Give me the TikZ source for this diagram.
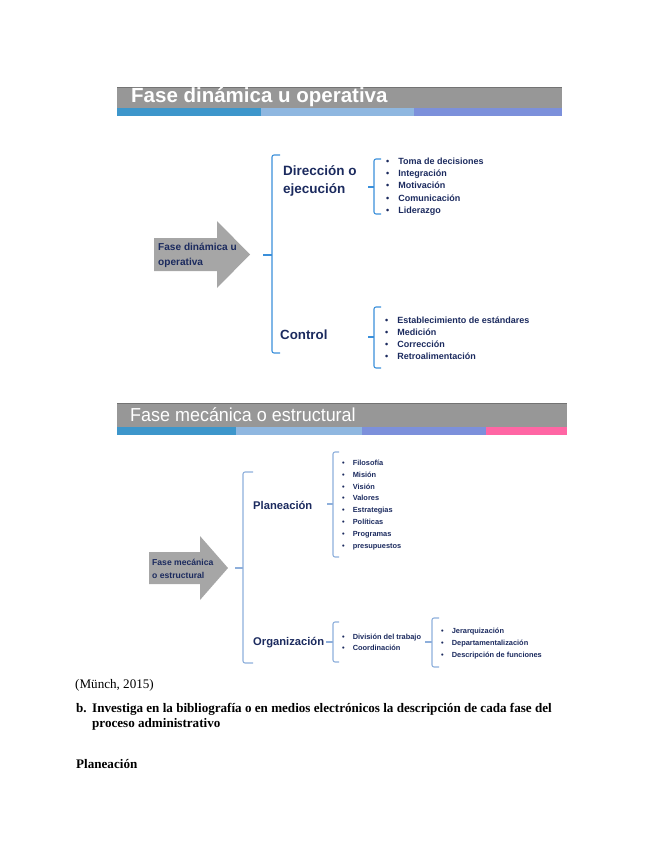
\documentclass[tikz,border=0pt]{standalone}
\usepackage{fontspec}
\setmainfont{Liberation Serif}
\setsansfont{Liberation Sans}
\newfontfamily\titlesans[FakeStretch=0.955]{Liberation Sans}
\usetikzlibrary{positioning}
\definecolor{navy}{HTML}{1B2A5E}
\definecolor{bargray}{HTML}{979797}
\definecolor{arrgray}{HTML}{A6A6A6}
\definecolor{stripA}{HTML}{3D96CB}
\definecolor{stripB}{HTML}{8FB7E0}
\definecolor{stripC}{HTML}{7C90DB}
\definecolor{stripD}{HTML}{FF66A4}
\definecolor{brkblue}{HTML}{3A8FDA}
\definecolor{brklight}{HTML}{8EAFDB}
\tikzset{
  txt/.style={inner sep=0pt,anchor=west,align=left,text=navy},
  brk/.style={line width=1.1pt,rounded corners=2pt},
  lst/.style={inner sep=0pt,anchor=west,text=navy,font=\sffamily\bfseries}
}

\begin{document}
\begin{tikzpicture}[x=1pt,y=-1pt,line join=round]
\useasboundingbox (0,0) rectangle (655,848);
% --- banner: fase dinamica
\fill[bargray] (117,87) rectangle (562,108);
\draw[black!55,line width=0.6pt] (117,87) -- (562,87);
\fill[stripA] (117,108) rectangle (261,116);
\fill[stripB] (261,108) rectangle (414,116);
\fill[stripC] (414,108) rectangle (562,116);
\node[inner sep=0pt,anchor=base west,text=white,font=\sffamily\bfseries\fontsize{20.5}{22}\selectfont] (tdyn) at (131,102.5) {Fase dinámica u operativa};

% --- diagram 1
\fill[arrgray] (154,238) -- (217,238) -- (217,221) -- (250,254.5) -- (217,288) -- (217,271) -- (154,271) -- cycle;
\node[txt,font=\sffamily\bfseries\fontsize{10.1}{14.5}\selectfont] (dyn) at (158,255.5) {Fase dinámica u\\operativa};
\draw[brk,brkblue] (280,155) -- (272,155) -- (272,353) -- (280,353);
\draw[brk,brkblue] (263,255) -- (272,255);
\node[txt,font=\sffamily\bfseries\fontsize{13.5}{18}\selectfont] (dir) at (283,181) {Dirección o\\ejecución};
\node[txt,font=\sffamily\bfseries\fontsize{13.3}{16}\selectfont] (ctl) at (280,335) {Control};
\draw[brk,brkblue] (381,159) -- (374,159) -- (374,214) -- (381,214);
\draw[brk,brkblue] (368,187) -- (374,187);
\node[lst,font=\sffamily\bfseries\fontsize{9}{12.25}\selectfont] (dirlist) at (386,186.5) {%
  \begin{tabular}{@{}l@{\hspace{9pt}}l@{}}
  • & Toma de decisiones\\ • & Integración\\ • & Motivación\\ • & Comunicación\\ • & Liderazgo
  \end{tabular}};
\draw[brk,brkblue] (381,307) -- (374,307) -- (374,368) -- (381,368);
\draw[brk,brkblue] (368,337) -- (374,337);
\node[lst,font=\sffamily\bfseries\fontsize{9}{12.1}\selectfont] (ctllist) at (385,339) {%
  \begin{tabular}{@{}l@{\hspace{9pt}}l@{}}
  • & Establecimiento de estándares\\ • & Medición\\ • & Corrección\\ • & Retroalimentación
  \end{tabular}};

% --- banner: fase mecanica
\fill[bargray] (117,403) rectangle (567,427);
\draw[black!55,line width=0.6pt] (117,403) -- (567,403);
\fill[stripA] (117,427) rectangle (236,435);
\fill[stripB] (236,427) rectangle (362,435);
\fill[stripC] (362,427) rectangle (486,435);
\fill[stripD] (486,427) rectangle (567,435);
\node[inner sep=0pt,anchor=base west,text=white,font=\titlesans\fontsize{18.8}{21}\selectfont] (tmec) at (130,421) {Fase mecánica o estructural};

% --- diagram 2
\fill[arrgray] (149,552) -- (200,552) -- (200,536) -- (228,568) -- (200,600) -- (200,584) -- (149,584) -- cycle;
\node[txt,font=\sffamily\bfseries\fontsize{8.6}{13}\selectfont] (mec) at (152,568.5) {Fase mecánica\\o estructural};
\draw[brk,brklight] (253,472) -- (243,472) -- (243,663) -- (253,663);
\draw[brk,brklight] (235,568) -- (243,568);
\node[txt,font=\sffamily\bfseries\fontsize{11.2}{14}\selectfont] (pla) at (253,505) {Planeación};
\node[txt,font=\sffamily\bfseries\fontsize{11.2}{14}\selectfont] (org) at (253,643) {Organización};
\draw[brk,brklight] (339,452) -- (333,452) -- (333,557) -- (339,557);
\draw[brk,brklight] (327,504) -- (333,504);
\node[lst,font=\sffamily\bfseries\fontsize{7.4}{11.86}\selectfont] (plalist) at (342,504.5) {%
  \begin{tabular}{@{}l@{\hspace{8pt}}l@{}}
  • & Filosofía\\ • & Misión\\ • & Visión\\ • & Valores\\ • & Estrategias\\ • & Políticas\\ • & Programas\\ • & presupuestos
  \end{tabular}};
\draw[brk,brklight] (339,622) -- (333,622) -- (333,662) -- (339,662);
\draw[brk,brklight] (326,642) -- (333,642);
\node[lst,font=\sffamily\bfseries\fontsize{7.4}{11.6}\selectfont] (orglist) at (342,642.5) {%
  \begin{tabular}{@{}l@{\hspace{8pt}}l@{}}
  • & División del trabajo\\ • & Coordinación
  \end{tabular}};
\draw[brk,brklight] (439,618) -- (432,618) -- (432,667) -- (439,667);
\draw[brk,brklight] (425,642) -- (432,642);
\node[lst,font=\sffamily\bfseries\fontsize{7.4}{12}\selectfont] (divlist) at (441,643) {%
  \begin{tabular}{@{}l@{\hspace{8pt}}l@{}}
  • & Jerarquización\\ • & Departamentalización\\ • & Descripción de funciones
  \end{tabular}};

% --- body text
\node[inner sep=0pt,anchor=base west,font=\fontsize{13.1}{15}\selectfont] (cite) at (75,688) {(Münch, 2015)};
\node[inner sep=0pt,anchor=base west,font=\bfseries\fontsize{13.1}{15}\selectfont] (qb) at (76,712) {b.};
\node[inner sep=0pt,anchor=north west,align=left,font=\bfseries\fontsize{13.1}{15.5}\selectfont] (qtext) at (92,702.8) {Investiga en la bibliografía o en medios electrónicos la descripción de cada fase del\\proceso administrativo};
\node[inner sep=0pt,anchor=base west,font=\bfseries\fontsize{13.1}{15}\selectfont] (plahead) at (76,768) {Planeación};
\end{tikzpicture}
\end{document}
